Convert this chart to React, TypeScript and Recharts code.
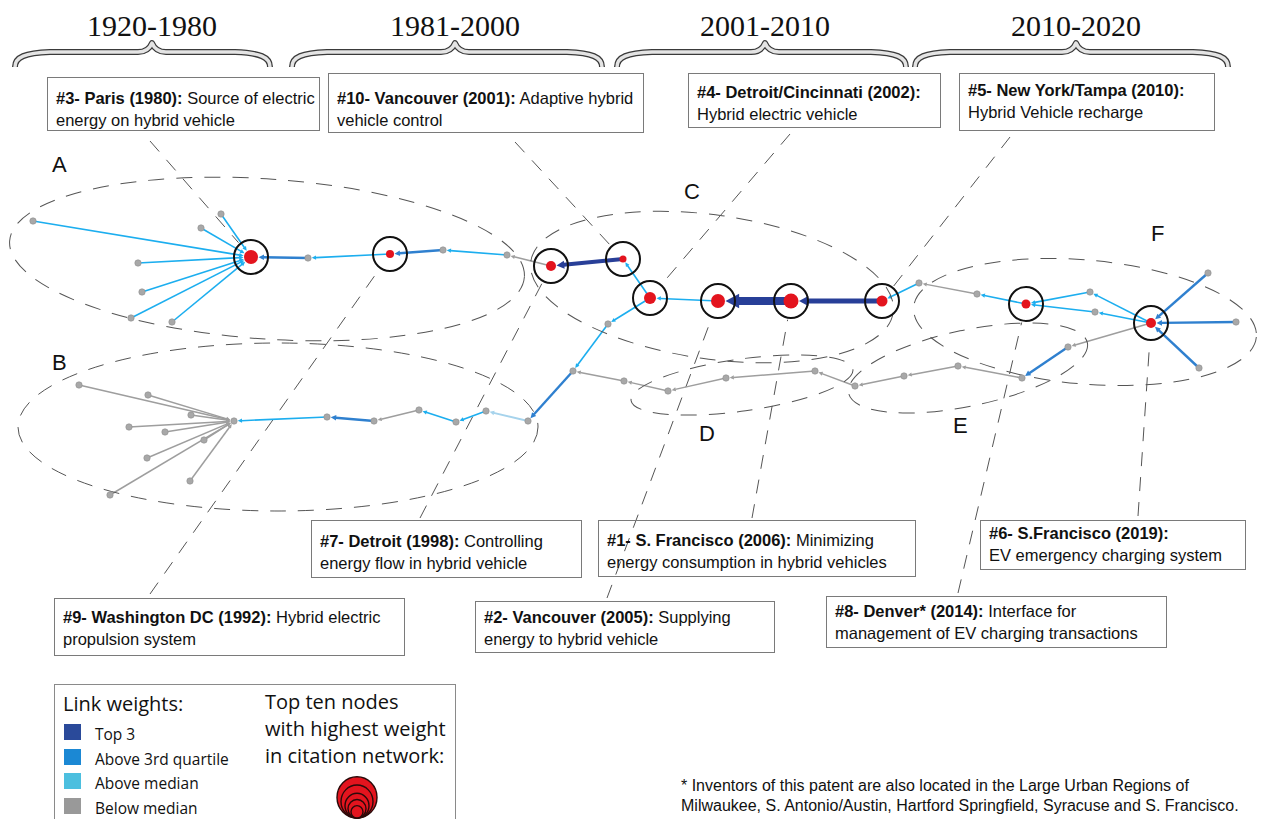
import React from "react";
import { ScatterChart, Scatter, XAxis, YAxis, ReferenceLine } from "recharts";

const W = 1262;
const H = 819;

// top ten nodes of the citation network (weight -> dot size)
const topNodes = [
  { id: "n3", x: 251, y: 257, weight: 7 },
  { id: "n9", x: 390, y: 254, weight: 4 },
  { id: "n7", x: 551, y: 266, weight: 5 },
  { id: "n10", x: 623, y: 259, weight: 3.5 },
  { id: "n4", x: 650, y: 298, weight: 6 },
  { id: "n2", x: 718, y: 301, weight: 7 },
  { id: "n1", x: 791, y: 301, weight: 7.5 },
  { id: "n5", x: 882, y: 301, weight: 5.5 },
  { id: "n8", x: 1026, y: 304, weight: 4.5 },
  { id: "n6", x: 1151, y: 323, weight: 5 },
];

// remaining patents
const otherNodes = [
  { id: "a1", x: 33, y: 221 }, { id: "a2", x: 221, y: 214 }, { id: "a3", x: 201, y: 228 },
  { id: "a4", x: 138, y: 263 }, { id: "a5", x: 142, y: 292 }, { id: "a6", x: 131, y: 318 },
  { id: "a7", x: 172, y: 322 }, { id: "a8", x: 308, y: 258 }, { id: "a9", x: 443, y: 250 },
  { id: "a10", x: 507, y: 255 },
  { id: "c1", x: 919, y: 283 }, { id: "c2", x: 977, y: 294 },
  { id: "f1", x: 1090, y: 292 }, { id: "f2", x: 1095, y: 312 }, { id: "f3", x: 1208, y: 273 },
  { id: "f4", x: 1236, y: 322 }, { id: "f5", x: 1199, y: 368 }, { id: "f6", x: 1068, y: 347 },
  { id: "e1", x: 1022, y: 378 }, { id: "e2", x: 958, y: 366 }, { id: "e3", x: 904, y: 376 },
  { id: "e4", x: 855, y: 386 }, { id: "d1", x: 815, y: 371 }, { id: "d2", x: 726, y: 378 },
  { id: "d3", x: 668, y: 391 }, { id: "d4", x: 624, y: 381 },
  { id: "g1", x: 573, y: 371 }, { id: "g2", x: 608, y: 324 },
  { id: "b0", x: 234, y: 421 },
  { id: "b1", x: 79, y: 385 }, { id: "b2", x: 148, y: 395 }, { id: "b3", x: 191, y: 415 },
  { id: "b4", x: 129, y: 427 }, { id: "b5", x: 165, y: 432 }, { id: "b6", x: 204, y: 440 },
  { id: "b7", x: 147, y: 458 }, { id: "b8", x: 190, y: 481 }, { id: "b9", x: 110, y: 495 },
  { id: "h1", x: 327, y: 417 }, { id: "h2", x: 374, y: 421 }, { id: "h3", x: 419, y: 410 },
  { id: "h4", x: 456, y: 422 }, { id: "h5", x: 486, y: 411 }, { id: "h6", x: 528, y: 421 },
];

// citation links: [citing, cited, weight class, link weight]
const links: [string, string, string, number?][] = [
  ["a1", "n3", "med"], ["a2", "n3", "med"], ["a3", "n3", "med"], ["a4", "n3", "med"],
  ["a5", "n3", "med"], ["a6", "n3", "med"], ["a7", "n3", "med"],
  ["a8", "n3", "q3"], ["n9", "a8", "med"], ["a9", "n9", "q3"], ["a10", "a9", "med"],
  ["n7", "a10", "low"], ["n10", "n7", "top3", 4], ["n4", "n10", "med"],
  ["n2", "n4", "med"], ["n1", "n2", "top3", 8], ["n5", "n1", "top3", 5],
  ["c1", "n5", "med"], ["c2", "c1", "low"], ["n8", "c2", "med"],
  ["f1", "n8", "med"], ["n6", "f1", "med"], ["f2", "n8", "med"], ["n6", "f2", "med"],
  ["f3", "n6", "q3"], ["f4", "n6", "q3"], ["f5", "n6", "q3"],
  ["n6", "f6", "low"], ["f6", "e1", "q3"],
  ["e1", "e2", "low"], ["e2", "e3", "low"], ["e3", "e4", "low"], ["e4", "d1", "low"],
  ["d1", "d2", "low"], ["d2", "d3", "low"], ["d3", "d4", "low"], ["d4", "g1", "low"],
  ["n4", "g2", "med"], ["g2", "g1", "med"], ["g1", "h6", "q3"],
  ["h6", "h5", "pale"], ["h5", "h4", "med"], ["h4", "h3", "med"], ["h3", "h2", "low"],
  ["h2", "h1", "q3"], ["h1", "b0", "med"],
  ["b1", "b0", "low"], ["b2", "b0", "low"], ["b3", "b0", "low"], ["b4", "b0", "low"],
  ["b5", "b0", "low"], ["b6", "b0", "low"], ["b7", "b0", "low"], ["b8", "b0", "low"],
  ["b9", "b0", "low"],
];

const periods = ["1920-1980", "1981-2000", "2001-2010", "2010-2020"];
const clusterLabels = ["A", "B", "C", "D", "E", "F"];

const notes = [
  { rank: 3, place: "Paris", year: 1980, rest: "Source of electric", line2: "energy on hybrid vehicle" },
  { rank: 10, place: "Vancouver", year: 2001, rest: "Adaptive hybrid", line2: "vehicle control" },
  { rank: 4, place: "Detroit/Cincinnati", year: 2002, rest: "", line2: "Hybrid electric vehicle" },
  { rank: 5, place: "New York/Tampa", year: 2010, rest: "", line2: "Hybrid Vehicle recharge" },
  { rank: 7, place: "Detroit", year: 1998, rest: "Controlling", line2: "energy flow in hybrid vehicle" },
  { rank: 1, place: "S. Francisco", year: 2006, rest: "Minimizing", line2: "energy consumption in hybrid vehicles" },
  { rank: 6, place: "S.Francisco", year: 2019, rest: "", line2: "EV emergency charging system" },
  { rank: 9, place: "Washington DC", year: 1992, rest: "Hybrid electric", line2: "propulsion system" },
  { rank: 2, place: "Vancouver", year: 2005, rest: "Supplying", line2: "energy to hybrid vehicle" },
  { rank: 8, place: "Denver*", year: 2014, rest: "Interface for", line2: "management of EV charging transactions" },
];

const legendItems = ["Top 3", "Above 3rd quartile", "Above median", "Below median"];

// ---- layout / style ----
const classColor: Record<string, string> = {
  top3: "#283f98", q3: "#2f80cf", med: "#1caeef", pale: "#a6d3ec", low: "#9e9e9e",
};
const classWidth: Record<string, number> = { top3: 4, q3: 2.4, med: 1.6, pale: 1.8, low: 1.5 };
const legendSwatch = ["#2a4a9a", "#1b88d4", "#4cbfdf", "#999999"];

const periodLayout = [
  { cx: 152, from: 15, to: 270 },
  { cx: 455, from: 292, to: 602 },
  { cx: 765, from: 617, to: 906 },
  { cx: 1076, from: 915, to: 1228 },
];

const ringLayout = [
  { x: 267, y: 259, rx: 258, ry: 80, rot: 4 },
  { x: 278, y: 427, rx: 260, ry: 84, rot: 0 },
  { x: 712, y: 287, rx: 183, ry: 72, rot: 8 },
  { x: 742, y: 385, rx: 112, ry: 26, rot: -8 },
  { x: 968, y: 368, rx: 122, ry: 38, rot: -12 },
  { x: 1085, y: 322, rx: 172, ry: 62, rot: 5 },
];
const labelPos = [
  [52, 152], [52, 350], [684, 179], [699, 421], [953, 413], [1151, 221],
];

const boxLayout: Record<number, { l: number; t: number; w: number; h: number; pt: number; ax: number; ay: number }> = {
  3: { l: 47, t: 77, w: 273, h: 54, pt: 9, ax: 150, ay: 141 },
  10: { l: 328, t: 73, w: 316, h: 60, pt: 13, ax: 515, ay: 142 },
  4: { l: 688, t: 73, w: 253, h: 55, pt: 7, ax: 790, ay: 134 },
  5: { l: 959, t: 73, w: 256, h: 58, pt: 5, ax: 1010, ay: 137 },
  7: { l: 311, t: 520, w: 271, h: 58, pt: 9, ax: 420, ay: 518 },
  1: { l: 598, t: 520, w: 318, h: 57, pt: 8, ax: 752, ay: 518 },
  6: { l: 980, t: 520, w: 266, h: 50, pt: 1, ax: 1138, ay: 516 },
  9: { l: 54, t: 598, w: 351, h: 58, pt: 7, ax: 150, ay: 594 },
  2: { l: 475, t: 601, w: 300, h: 52, pt: 4, ax: 607, ay: 598 },
  8: { l: 826, t: 596, w: 341, h: 52, pt: 3, ax: 958, ay: 593 },
};

const allNodes: Record<string, { x: number; y: number; r: number }> = {};
topNodes.forEach((n) => (allNodes[n.id] = { x: n.x, y: n.y, r: n.weight }));
otherNodes.forEach((n) => (allNodes[n.id] = { x: n.x, y: n.y, r: 3.2 }));

const SANS = "'Liberation Sans', Arial, sans-serif";
const LEG = "'Open Sans', 'Noto Sans', sans-serif";

const EdgeShape = (p: any) => {
  const { x1, y1, x2, y2, color, width, gap } = p;
  const dx = x2 - x1;
  const dy = y2 - y1;
  const len = Math.hypot(dx, dy) || 1;
  const ux = dx / len;
  const uy = dy / len;
  const tx = x2 - ux * gap;
  const ty = y2 - uy * gap;
  const aL = 2 + width * 1.45;
  const aW = 0.8 + width * 0.82;
  const bx = tx - ux * aL;
  const by = ty - uy * aL;
  const px = -uy;
  const py = ux;
  return (
    <g>
      <line x1={x1} y1={y1} x2={bx + ux * 0.5} y2={by + uy * 0.5} stroke={color} strokeWidth={width} />
      <polygon
        points={`${tx},${ty} ${bx + px * aW},${by + py * aW} ${bx - px * aW},${by - py * aW}`}
        fill={color}
      />
    </g>
  );
};

const BraceShape = (p: any) => {
  const { cx, cy, payload } = p;
  const L = cx - (payload.x - payload.from);
  const R = cx + (payload.to - payload.x);
  const e = cy + 15;
  const d = `M${L},${e} C${L},${cy + 5} ${L + 10},${cy + 1} ${L + 35},${cy} L${cx - 14},${cy} C${cx - 6},${cy} ${cx - 2},${cy - 4} ${cx},${cy - 9} C${cx + 2},${cy - 4} ${cx + 6},${cy} ${cx + 14},${cy} L${R - 35},${cy} C${R - 10},${cy + 1} ${R},${cy + 5} ${R},${e}`;
  return (
    <g>
      <path d={d} fill="none" stroke="#3a3a3a" strokeWidth={6} strokeLinejoin="round" />
      <path d={d} fill="none" stroke="#e4e4e4" strokeWidth={3.4} strokeLinejoin="round" />
    </g>
  );
};

const RingShape = (p: any) => {
  const { cx, cy, payload } = p;
  return (
    <ellipse
      cx={cx}
      cy={cy}
      rx={payload.rx}
      ry={payload.ry}
      transform={`rotate(${payload.rot} ${cx} ${cy})`}
      fill="none"
      stroke="#555"
      strokeWidth={1}
      strokeDasharray="16 12"
    />
  );
};

const TopNodeShape = (p: any) => {
  const { cx, cy, payload } = p;
  return (
    <g>
      <circle cx={cx} cy={cy} r={17} fill="none" stroke="#111" strokeWidth={2} />
      <circle cx={cx} cy={cy} r={payload.weight} fill="#e3141e" />
    </g>
  );
};

const OtherNodeShape = (p: any) => (
  <circle cx={p.cx} cy={p.cy} r={3.2} fill="#a8a8a8" stroke="#8e8e8e" strokeWidth={0.6} />
);

export default function App() {
  const braceData = periods.map((name, i) => ({
    name,
    x: periodLayout[i].cx,
    y: 52,
    from: periodLayout[i].from,
    to: periodLayout[i].to,
  }));
  const ringData = ringLayout.map((r, i) => ({ ...r, name: clusterLabels[i] }));

  return (
    <div style={{ position: "absolute", left: 0, top: 0, width: W, height: H, background: "#fff", overflow: "hidden" }}>
      <ScatterChart width={W} height={H} margin={{ top: 0, right: 0, bottom: 0, left: 0 }}>
        <XAxis type="number" dataKey="x" domain={[0, W]} hide allowDataOverflow />
        <YAxis type="number" dataKey="y" domain={[0, H]} reversed hide allowDataOverflow />
        <Scatter data={ringData} shape={RingShape} isAnimationActive={false} />
        <Scatter data={braceData} shape={BraceShape} isAnimationActive={false} />
        {notes.map((n) => {
          const b = boxLayout[n.rank];
          const t = allNodes["n" + n.rank];
          const dx = t.x - b.ax;
          const dy = t.y - b.ay;
          const len = Math.hypot(dx, dy);
          const ex = t.x - (dx / len) * 19;
          const ey = t.y - (dy / len) * 19;
          return (
            <ReferenceLine
              key={"lead" + n.rank}
              segment={[{ x: b.ax, y: b.ay }, { x: ex, y: ey }]}
              stroke="#555"
              strokeWidth={1}
              strokeDasharray="14 11"
            />
          );
        })}
        {links.map(([s, t, cls, w], i) => {
          const a = allNodes[s];
          const b = allNodes[t];
          const width = w ?? classWidth[cls];
          const color = classColor[cls];
          return (
            <ReferenceLine
              key={"e" + i}
              segment={[{ x: a.x, y: a.y }, { x: b.x, y: b.y }]}
              shape={(p: any) => <EdgeShape {...p} color={color} width={width} gap={b.r + 0.5} />}
            />
          );
        })}
        <Scatter data={otherNodes} shape={OtherNodeShape} isAnimationActive={false} />
        <Scatter data={topNodes} shape={TopNodeShape} isAnimationActive={false} />
      </ScatterChart>

      {periods.map((p, i) => (
        <div
          key={p}
          style={{
            position: "absolute",
            left: periodLayout[i].cx - 80,
            width: 160,
            top: 9,
            textAlign: "center",
            fontFamily: "'Liberation Serif', 'Times New Roman', serif",
            fontSize: 30,
            color: "#111",
          }}
        >
          {p}
        </div>
      ))}

      {clusterLabels.map((c, i) => (
        <div
          key={c}
          style={{ position: "absolute", left: labelPos[i][0], top: labelPos[i][1], fontFamily: SANS, fontSize: 22, color: "#111" }}
        >
          {c}
        </div>
      ))}

      {notes.map((n) => {
        const b = boxLayout[n.rank];
        return (
          <div
            key={n.rank}
            style={{
              position: "absolute",
              left: b.l,
              top: b.t,
              width: b.w,
              height: b.h,
              boxSizing: "border-box",
              border: "1px solid #7a7a7a",
              paddingLeft: 8,
              paddingTop: b.pt,
              fontFamily: SANS,
              fontSize: 16.5,
              lineHeight: "22px",
              color: "#111",
              whiteSpace: "nowrap",
            }}
          >
            <div>
              <b>{`#${n.rank}- ${n.place} (${n.year}):`}</b>
              {n.rest ? " " + n.rest : ""}
            </div>
            <div>{n.line2}</div>
          </div>
        );
      })}

      <div
        style={{
          position: "absolute",
          left: 54,
          top: 684,
          width: 402,
          height: 150,
          boxSizing: "border-box",
          border: "1px solid #8a8a8a",
          fontFamily: LEG,
          color: "#111",
        }}
      >
        <div style={{ position: "absolute", left: 8, top: 5, fontSize: 20 }}>Link weights:</div>
        {legendItems.map((item, i) => (
          <div key={item} style={{ position: "absolute", left: 9, top: 36 + i * 24.5, display: "flex", alignItems: "center" }}>
            <span style={{ width: 17, height: 16, background: legendSwatch[i], display: "inline-block" }} />
            <span style={{ marginLeft: 14, fontSize: 15.5, position: "relative", top: 2 }}>{item}</span>
          </div>
        ))}
        <div style={{ position: "absolute", left: 210, top: 3, fontSize: 20, lineHeight: "27px" }}>
          Top ten nodes
          <br />
          with highest weight
          <br />
          in citation network:
        </div>
        <svg style={{ position: "absolute", left: 280, top: 88 }} width={44} height={48}>
          {[20, 16, 12, 9, 6].map((r, i) => (
            <ellipse key={i} cx={22} cy={45 - r * 1.03} rx={r} ry={r * 1.03} fill="#e3141e" stroke="#2a0a0a" strokeWidth={1.4} />
          ))}
        </svg>
      </div>

      <div
        style={{
          position: "absolute",
          left: 681,
          top: 776,
          fontFamily: SANS,
          fontSize: 16,
          lineHeight: "20px",
          color: "#111",
          whiteSpace: "nowrap",
        }}
      >
        * Inventors of this patent are also located in the Large Urban Regions of
        <br />
        Milwaukee, S. Antonio/Austin, Hartford Springfield, Syracuse and S. Francisco.
      </div>
    </div>
  );
}
